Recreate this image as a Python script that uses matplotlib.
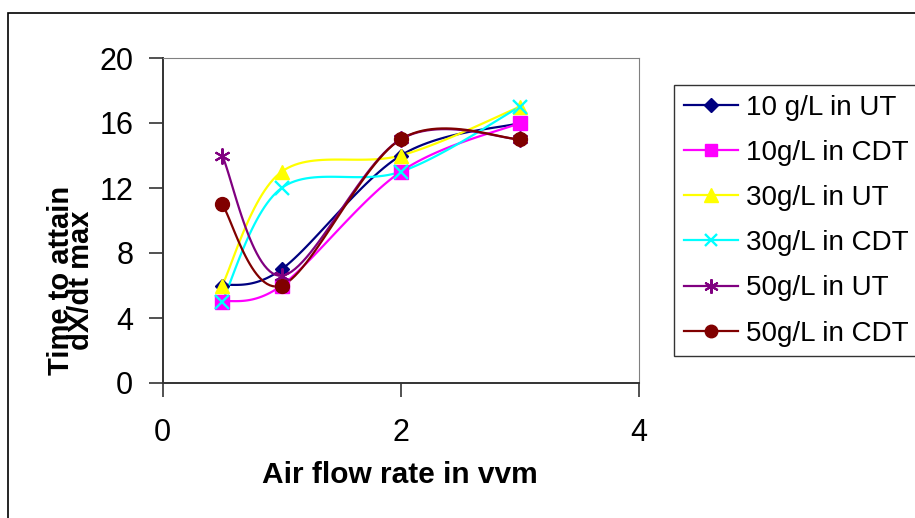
import numpy as np
import matplotlib.pyplot as plt
from matplotlib.patches import Rectangle

plt.rcParams['font.family'] = ['Liberation Sans', 'DejaVu Sans']

# air flow rate (vvm)
flow = [0.5, 1, 2, 3]

# time to attain dX/dt max
ut_10 = [6, 7, 14, 16]
cdt_10 = [5, 6, 13, 16]
ut_30 = [6, 13, 14, 17]
cdt_30 = [5, 12, 13, 17]
ut_50 = [14, 6.6, 15, 15]
cdt_50 = [11, 6, 15, 15]

labels = ["10 g/L in UT", "10g/L in CDT", "30g/L in UT",
          "30g/L in CDT", "50g/L in UT", "50g/L in CDT"]


def smooth(xs, ys, n=30):
    # excel style smoothed line (catmull-rom through the points)
    xs = np.asarray(xs, float)
    ys = np.asarray(ys, float)
    px = np.concatenate([[xs[0]], xs, [xs[-1]]])
    py = np.concatenate([[ys[0]], ys, [ys[-1]]])
    t = np.linspace(0, 1, n)
    outx, outy = [], []
    for i in range(1, len(px) - 2):
        x0, x1 = px[i], px[i + 1]
        y0, y1 = py[i], py[i + 1]
        c1x = x0 + (px[i + 1] - px[i - 1]) / 6
        c1y = y0 + (py[i + 1] - py[i - 1]) / 6
        c2x = x1 - (px[i + 2] - px[i]) / 6
        c2y = y1 - (py[i + 2] - py[i]) / 6
        bx = (1 - t) ** 3 * x0 + 3 * (1 - t) ** 2 * t * c1x + 3 * (1 - t) * t ** 2 * c2x + t ** 3 * x1
        by = (1 - t) ** 3 * y0 + 3 * (1 - t) ** 2 * t * c1y + 3 * (1 - t) * t ** 2 * c2y + t ** 3 * y1
        outx.extend(bx)
        outy.extend(by)
    return outx, outy


fig = plt.figure(figsize=(9.15, 5.18), dpi=100)
fig.patches.append(Rectangle((8 / 915, -0.1), 2, 1 - 13 / 518 + 0.1, transform=fig.transFigure,
                             fill=False, edgecolor='black', linewidth=1.2))

ax = fig.add_axes([162.5 / 915, 1 - 383 / 518, (639 - 162.5) / 915, (383 - 58) / 518])

series = [
    (ut_10, '#000080', 'D', 7.5, dict()),
    (cdt_10, '#ff00ff', 's', 9.5, dict()),
    (ut_30, '#ffff00', '^', 10.5, dict()),
    (cdt_30, '#00ffff', 'x', 9.5, dict(markeredgewidth=1.7)),
    (ut_50, '#800080', (6, 2, 0), 11.5, dict(markeredgewidth=1.5)),
    (cdt_50, '#800000', 'o', 10, dict()),
]

handles = []
for (ys, col, mk, ms, kw), lab in zip(series, labels):
    sx, sy = smooth(flow, ys)
    ax.plot(sx, sy, color=col, linewidth=1.6, zorder=2)
    ax.plot(flow, ys, linestyle='none', marker=mk, markersize=ms, color=col,
            markeredgecolor=col, zorder=3, **kw)
    h, = ax.plot([], [], color=col, linewidth=1.6, marker=mk, markersize=ms * 0.9,
                 markeredgecolor=col, **kw)
    handles.append(h)

ax.set_xlim(0, 4)
ax.set_ylim(0, 20)
ax.set_xticks([0, 2, 4])
ax.set_yticks([0, 4, 8, 12, 16, 20])
ax.tick_params(axis='both', labelsize=22, direction='out', length=10, width=1.2, color='#333333')
ax.tick_params(axis='x', pad=15)
ax.tick_params(axis='y', pad=11)
for side in ['top', 'right']:
    ax.spines[side].set_color('#808080')
for side in ['left', 'bottom']:
    ax.spines[side].set_color('#333333')
    ax.spines[side].set_linewidth(1.4)

fig.text(400 / 915, 1 - 475 / 518, "Air flow rate in vvm", fontsize=21.5, fontweight='bold',
         ha='center', va='center')
fig.text(71 / 915, 1 - 280 / 518, "Time to attain\ndX/dt max", fontsize=21, fontweight='bold',
         rotation=90, ha='center', va='center', linespacing=0.65)

leg = fig.legend(handles, labels, loc='upper left', bbox_to_anchor=(674 / 915, 1 - 85 / 518),
                 fontsize=20, frameon=True, fancybox=False, edgecolor='black',
                 handlelength=1.95, handletextpad=0.3, borderpad=0.35, labelspacing=0.69,
                 borderaxespad=0)
leg.get_frame().set_linewidth(1.0)

fig.savefig("out.png", dpi=100)
